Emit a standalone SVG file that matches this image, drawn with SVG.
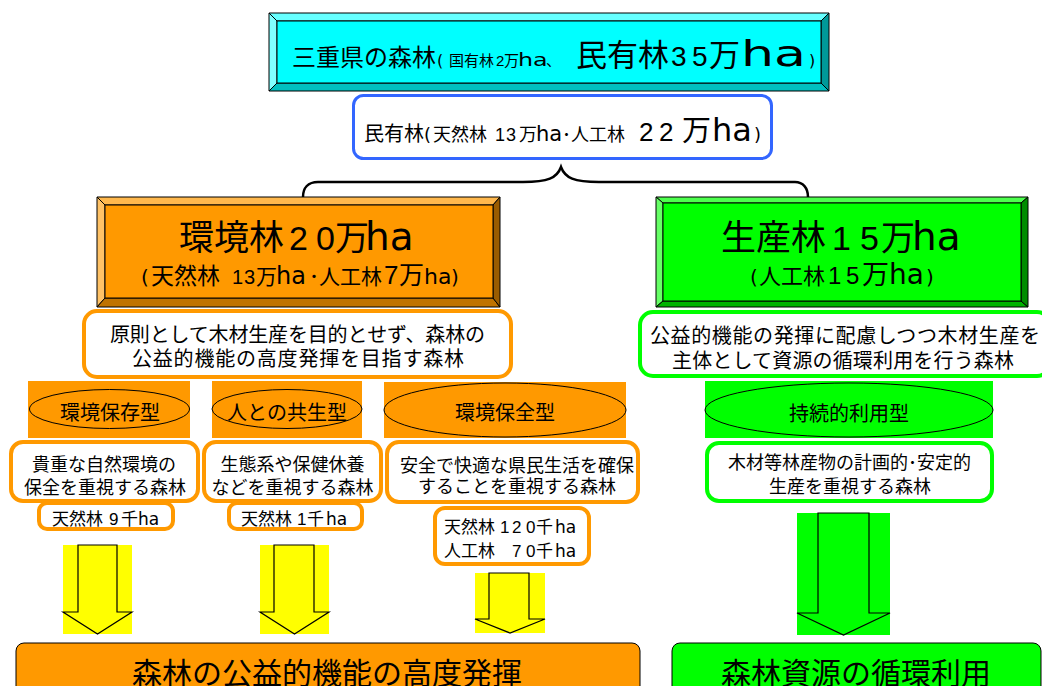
<svg xmlns="http://www.w3.org/2000/svg" width="1042" height="686" viewBox="0 0 1042 686">
<style>
.j{font-family:"Noto Sans CJK JP","Noto Sans CJK SC",sans-serif;fill:#000}
.l{font-family:"DejaVu Sans","Noto Sans CJK JP",sans-serif}
.d{font-family:"Liberation Sans","Noto Sans CJK JP",sans-serif}
.c{text-anchor:middle}
.bx{fill:#fff;stroke-width:4}
.ob{stroke:#ff9900}
.gb{stroke:#00ff00}
.bl{stroke:#3366ff;stroke-width:3;fill:#fff}
.el{stroke:#000;stroke-width:1}
.bev{stroke:#000;stroke-width:1;stroke-linejoin:miter}
.arr{stroke:#000;stroke-width:1.2}
.fin{stroke:#000;stroke-width:1}
</style>
<rect width="1042" height="686" fill="#fff"/>

<g id="top">
<polygon class="bev" points="269,13 829,13 821,21 277,21" fill="#66ffff"/>
<polygon class="bev" points="269,13 277,21 277,83 269,91" fill="#80ffff"/>
<polygon class="bev" points="269,91 277,83 821,83 829,91" fill="#00c0c0"/>
<polygon class="bev" points="829,13 829,91 821,83 821,21" fill="#009999"/>
<rect class="bev" x="277" y="21" width="544" height="62" fill="#00ffff"/>
<text class="j" y="66"><tspan x="292" font-size="24">三重県の森林</tspan><tspan class="l" x="437" font-size="16">(</tspan><tspan x="449" font-size="15">国有林</tspan><tspan class="d" x="496" font-size="15">2</tspan><tspan x="504" font-size="15">万</tspan></text>
<text class="j" x="546" y="66" font-size="15">、</text>
<text class="l" transform="translate(518,66) scale(1.4,1)" font-size="17">ha</text>
<text class="j" y="66"><tspan x="576" font-size="31">民有林</tspan><tspan class="d" x="671" font-size="28">3</tspan><tspan class="d" x="692" font-size="28">5</tspan><tspan x="709" font-size="31">万</tspan></text>
<text class="l" transform="translate(741,66) scale(1.45,1)" font-size="36">ha</text>
<text class="l" x="809" y="66" font-size="16">)</text>
</g>

<g id="minyurin">
<rect class="bl" x="353.5" y="95.5" width="418" height="63" rx="10"/>
<text class="j" y="141"><tspan x="364" font-size="20">民有林</tspan><tspan class="l" x="424" font-size="18">(</tspan><tspan x="433" font-size="18">天然林</tspan><tspan class="d" x="495" font-size="18">1</tspan><tspan class="d" x="506" font-size="18">3</tspan><tspan x="519" font-size="18">万</tspan><tspan class="l" x="536" font-size="21">ha</tspan><tspan x="562" font-size="18">･</tspan><tspan x="571" font-size="18">人工林</tspan><tspan class="d" x="639" font-size="26">2</tspan><tspan class="d" x="659" font-size="26">2</tspan><tspan x="682" font-size="29">万</tspan><tspan class="l" x="712" font-size="32">ha</tspan><tspan class="l" x="754" font-size="18">)</tspan></text>
</g>

<g id="connectors">
<path d="M303,197 C303,188 308,182 318,182 L523,182 C548,182 557,178 561,167 C565,178 574,182 599,182 L795,182 C803,182 808,188 808,197" fill="none" stroke="#000" stroke-width="2.5"/>
<rect x="63" y="545" width="69" height="89" fill="#ffff00"/>
<path class="arr" d="M78,545 L117,545 L117,612 L132,612 L97.5,634 L63,612 L78,612 Z" fill="#ffff00"/>
<rect x="260" y="545" width="69" height="89" fill="#ffff00"/>
<path class="arr" d="M274,545 L314,545 L314,612 L329,612 L294.5,634 L260,612 L274,612 Z" fill="#ffff00"/>
<rect x="475" y="573" width="70" height="60" fill="#ffff00"/>
<path class="arr" d="M489,573 L529,573 L529,619 L545,619 L510,633 L475,619 L489,619 Z" fill="#ffff00"/>
<rect x="797" y="513" width="93" height="122" fill="#00ff00"/>
<path class="arr" d="M818,513 L869,513 L869,613 L890,613 L843.5,635 L797,613 L818,613 Z" fill="#00ff00"/>
</g>

<g id="kankyourin">
<polygon class="bev" points="97,197 500,197 493,205 105,205" fill="#ffb84d"/>
<polygon class="bev" points="97,197 105,205 105,298 97,307" fill="#ffc266"/>
<polygon class="bev" points="97,307 105,298 493,298 500,307" fill="#c07300"/>
<polygon class="bev" points="500,197 500,307 493,298 493,205" fill="#9a5c00"/>
<rect class="bev" x="105" y="205" width="388" height="93" fill="#ff9900"/>
<text class="j" y="250"><tspan x="179" font-size="35">環境林</tspan><tspan class="d" x="289" font-size="34">2</tspan><tspan class="d" x="316" font-size="34">0</tspan><tspan x="335" font-size="34">万</tspan><tspan class="l" x="365" font-size="39">ha</tspan></text>
<text class="j" y="284"><tspan class="l" x="141" font-size="20">(</tspan><tspan x="151" font-size="23">天然林</tspan><tspan class="d" x="232" font-size="20">1</tspan><tspan class="d" x="244" font-size="20">3</tspan><tspan x="256" font-size="21">万</tspan><tspan class="l" x="276" font-size="24">ha</tspan><tspan x="309" font-size="20">･</tspan><tspan x="319" font-size="21">人工林</tspan><tspan class="d" x="384" font-size="26">7</tspan><tspan x="399" font-size="25">万</tspan><tspan class="l" x="424" font-size="22">ha</tspan><tspan class="l" x="451" font-size="20">)</tspan></text>
</g>

<g id="seisanrin">
<polygon class="bev" points="656,197 1028,197 1021,203 663,203" fill="#4dff4d"/>
<polygon class="bev" points="656,197 663,203 663,301 656,307" fill="#66ff66"/>
<polygon class="bev" points="656,307 663,301 1021,301 1028,307" fill="#00b300"/>
<polygon class="bev" points="1028,197 1028,307 1021,301 1021,203" fill="#008c00"/>
<rect class="bev" x="663" y="203" width="358" height="98" fill="#00ff00"/>
<text class="j" y="250"><tspan x="721" font-size="35">生産林</tspan><tspan class="d" x="832" font-size="34">1</tspan><tspan class="d" x="860" font-size="34">5</tspan><tspan x="881" font-size="34">万</tspan><tspan class="l" x="912" font-size="39">ha</tspan></text>
<text class="j" y="284"><tspan class="l" x="750" font-size="20">(</tspan><tspan x="759" font-size="22">人工林</tspan><tspan class="d" x="828" font-size="24">1</tspan><tspan class="d" x="846" font-size="24">5</tspan><tspan x="862" font-size="27">万</tspan><tspan class="l" x="889" font-size="28">ha</tspan><tspan class="l" x="926" font-size="20">)</tspan></text>
</g>

<g id="kankyou-desc">
<rect class="bx ob" x="84" y="311" width="427" height="66" rx="13"/>
<text class="j" font-size="20" x="110" y="342" textLength="375">原則として木材生産を目的とせず、森林の</text>
<text class="j" font-size="20" x="132" y="366" textLength="332">公益的機能の高度発揮を目指す森林</text>
</g>

<g id="seisan-desc">
<rect class="bx gb" x="640" y="312" width="410" height="64" rx="13"/>
<text class="j" font-size="20" x="650" y="343" textLength="390">公益的機能の発揮に配慮しつつ木材生産を</text>
<text class="j" font-size="20" x="672" y="368" textLength="342">主体として資源の循環利用を行う森林</text>
</g>

<g id="hozon">
<rect x="28" y="381" width="162" height="57" fill="#ff9900"/>
<ellipse class="el" cx="109.5" cy="409" rx="80" ry="19.5" fill="#ff9900"/>
<text class="j c" font-size="20" x="110" y="420">環境保存型</text>
<rect class="bx ob" x="11" y="442" width="187" height="59" rx="12"/>
<text class="j c" font-size="18" x="104" y="471">貴重な自然環境の</text>
<text class="j c" font-size="18" x="105" y="494">保全を重視する森林</text>
<rect class="bx ob" x="39" y="503" width="134" height="26" rx="8"/>
<text class="j" font-size="17" y="525"><tspan x="52">天然林</tspan><tspan class="d" x="109">9</tspan><tspan x="121">千</tspan><tspan class="l" x="138">ha</tspan></text>
</g>

<g id="kyousei">
<rect x="212" y="381" width="150" height="57" fill="#ff9900"/>
<ellipse class="el" cx="287" cy="409" rx="75" ry="19.5" fill="#ff9900"/>
<text class="j c" font-size="20" x="287" y="420">人との共生型</text>
<rect class="bx ob" x="204" y="442" width="177" height="59" rx="12"/>
<text class="j c" font-size="18" x="292.5" y="471">生態系や保健休養</text>
<text class="j c" font-size="18" x="292.5" y="494">などを重視する森林</text>
<rect class="bx ob" x="229" y="503" width="133" height="26" rx="8"/>
<text class="j" font-size="17" y="525"><tspan x="241">天然林</tspan><tspan class="d" x="297">1</tspan><tspan x="307">千</tspan><tspan class="l" x="326">ha</tspan></text>
</g>

<g id="hozen">
<rect x="384" y="382" width="242" height="56" fill="#ff9900"/>
<ellipse class="el" cx="505" cy="410" rx="121" ry="27" fill="#ff9900"/>
<text class="j c" font-size="20" x="505" y="420">環境保全型</text>
<rect class="bx ob" x="387" y="442" width="251" height="60" rx="12"/>
<text class="j c" font-size="18" x="517" y="472">安全で快適な県民生活を確保</text>
<text class="j c" font-size="18" x="517" y="493">することを重視する森林</text>
<rect class="bx ob" x="435" y="508" width="154" height="56" rx="10"/>
<text class="j" font-size="17" y="533"><tspan x="444">天然林</tspan><tspan class="d" x="500">1</tspan><tspan class="d" x="512">2</tspan><tspan class="d" x="526">0</tspan><tspan x="536">千</tspan><tspan class="l" x="555">ha</tspan></text>
<text class="j" font-size="17" y="557"><tspan x="444">人工林</tspan><tspan class="d" x="512">7</tspan><tspan class="d" x="526">0</tspan><tspan x="536">千</tspan><tspan class="l" x="555">ha</tspan></text>
</g>

<g id="jizoku">
<rect x="705" y="381" width="288" height="57" fill="#00ff00"/>
<ellipse class="el" cx="849" cy="410" rx="144" ry="27" fill="#00ff00"/>
<text class="j c" font-size="20" x="849" y="421">持続的利用型</text>
<rect class="bx gb" x="707" y="443" width="285" height="58" rx="12"/>
<text class="j c" font-size="18" x="849.5" y="469">木材等林産物の計画的･安定的</text>
<text class="j c" font-size="18" x="850" y="493">生産を重視する森林</text>
</g>

<g id="koueki">
<rect class="fin" x="16" y="643" width="624" height="60" rx="8" fill="#ff9900"/>
<text class="j" font-size="30" x="132" y="684">森林の公益的機能の高度発揮</text>
</g>

<g id="junkan">
<rect class="fin" x="672" y="643" width="369" height="60" rx="8" fill="#00ff00"/>
<text class="j" font-size="30" x="721" y="684">森林資源の循環利用</text>
</g>
</svg>
